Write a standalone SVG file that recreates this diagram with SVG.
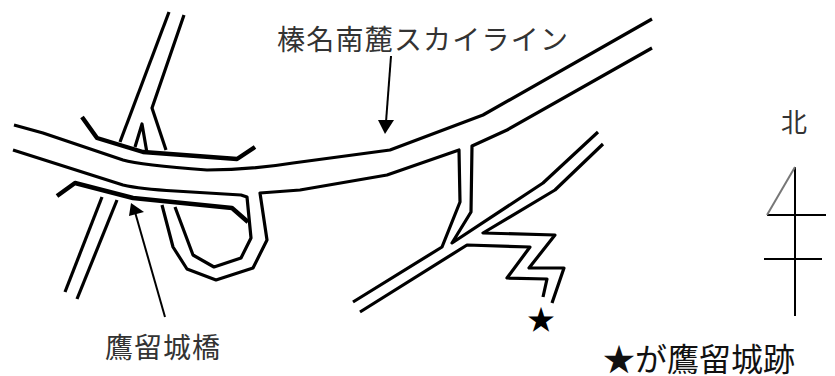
<svg xmlns="http://www.w3.org/2000/svg" width="835" height="376" viewBox="0 0 835 376">
<style>
.r{fill:none;stroke:#000;stroke-width:3.2;stroke-linejoin:round}
.b{fill:none;stroke:#000;stroke-width:4.4;stroke-linejoin:round}
.t{fill:none;stroke:#000;stroke-width:2}
text{font-family:"Noto Sans CJK JP","Liberation Sans",sans-serif}
.l{fill:#333;font-size:28px}
</style>
<rect width="835" height="376" fill="#fff"/>
<g id="roads">
<path class="r" d="M14 125L43 133L123 160Q140 165 207 170Q250 170 293 163L390 150L483 115L652 19"/>
<path class="r" d="M13 150L123 185Q140 189 175 191L241 195L247 197L251 238L241 258L214 267L193 255L175 207"/>
<path class="r" d="M162 205L173 247L187 269L216 280L253 268L267 240L260 193L300 190L387 175L459 150L460 202L442 247L353 302"/>
<path class="r" d="M652 48L507 130L472 146L471 212L452 243L543 183L598 132"/>
<path class="r" d="M360 312L467 245L530 247L507 278L547 279L543 297"/>
<path class="r" d="M603 144L555 190L483 233L555 235L529 268L564 268L552 303"/>
<path class="r" d="M169 12L120 142"/>
<path class="r" d="M184 15L152 108L166 150"/>
<path class="r" d="M135 147L142 124L147 153"/>
<path class="r" d="M102 197L65 292"/>
<path class="r" d="M117 200L77 299"/>
<path class="b" d="M82 117L97 138L143 152L237 159L255 147"/>
<path class="b" d="M57 196L75 183L133 198L232 208L248 222"/>
</g>
<g id="arrows">
<path class="t" d="M165 317L135 212"/>
<path d="M131 203L129 216L144 212Z"/>
<path class="t" d="M391 56L386 122"/>
<path d="M385 134L378 120L394 120Z"/>
</g>
<g id="north" fill="none" stroke="#000" stroke-width="2">
<path d="M795 167V316M767 215H826M764 259H822"/>
<path d="M795 167L767 215" stroke="#777"/>
</g>
<g id="labels">
<text class="l" x="277" y="50" textLength="291" lengthAdjust="spacing">榛名南麓スカイライン</text>
<text class="l" x="105" y="358" textLength="115" lengthAdjust="spacing">鷹留城橋</text>
<text x="781" y="132" font-size="26" fill="#333">北</text>
<text x="527" y="330" font-size="28" fill="#000">★</text>
<text x="603" y="371" font-size="32" fill="#111">★が鷹留城跡</text>
</g>
</svg>
